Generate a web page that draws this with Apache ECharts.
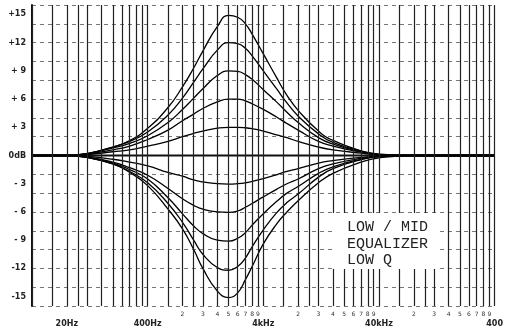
<!DOCTYPE html>
<html lang="en">
<head>
<meta charset="UTF-8">
<script src="https://cdn.jsdelivr.net/npm/echarts@6/dist/echarts.min.js"></script>
<title>Low / Mid Equalizer Low Q</title>
<style>
    html, body { margin: 0; padding: 0; background: #fff; }
    #main { width: 506px; height: 336px; }
</style>
</head>
<body>
<div id="main"></div>
<script>
    var freqs = [10, 20, 30, 50, 70, 100, 150, 200, 250, 300, 400, 500, 600, 700, 800, 1000, 1300, 1600, 2000, 3000, 4000, 7000, 10000, 20000, 100000];

    // boost curves (dB)
    var boost15 = [0, 0, 0.2, 0.9, 1.6, 2.9, 5.1, 7.3, 9.3, 11.1, 13.7, 14.9, 14.7, 14.0, 12.9, 10.8, 8.3, 6.4, 4.8, 2.6, 1.6, 0.5, 0.15, 0, 0];
    var boost12 = [0, 0, 0.2, 0.9, 1.5, 2.5, 4.3, 6.1, 7.8, 9.2, 11.2, 12, 11.9, 11.4, 10.6, 9.0, 7.1, 5.6, 4.2, 2.3, 1.4, 0.45, 0.12, 0, 0];
    var boost9 = [0, 0, 0.2, 0.8, 1.3, 2.1, 3.5, 4.9, 6.1, 7.1, 8.5, 9, 8.95, 8.6, 8.1, 7.0, 5.7, 4.6, 3.5, 1.9, 1.2, 0.4, 0.1, 0, 0];
    var boost6 = [0, 0, 0.15, 0.6, 1.0, 1.7, 2.7, 3.7, 4.4, 5.0, 5.7, 6, 6.0, 5.8, 5.5, 4.9, 4.1, 3.4, 2.7, 1.5, 1.0, 0.35, 0.1, 0, 0];
    var boost3 = [0, 0, 0.1, 0.4, 0.6, 1.0, 1.5, 2.0, 2.35, 2.6, 2.9, 3, 3.0, 2.95, 2.85, 2.6, 2.2, 1.9, 1.5, 0.9, 0.6, 0.25, 0.08, 0, 0];

    // cut curves (dB)
    var cut3 = [0, 0, -0.1, -0.4, -0.7, -1.1, -1.8, -2.2, -2.6, -2.8, -3.0, -3.05, -3.0, -2.9, -2.75, -2.45, -2.05, -1.7, -1.4, -0.8, -0.55, -0.2, -0.07, 0, 0];
    var cut6 = [0, 0, -0.15, -0.7, -1.3, -2.1, -3.5, -4.6, -5.3, -5.7, -6.0, -6.05, -5.9, -5.5, -5.1, -4.4, -3.6, -3.0, -2.5, -1.4, -0.9, -0.3, -0.1, 0, 0];
    var cut9 = [0, 0, -0.2, -0.8, -1.5, -2.5, -4.5, -6.2, -7.5, -8.3, -9.0, -9.1, -8.8, -8.2, -7.4, -6.2, -4.9, -4.0, -3.3, -1.9, -1.2, -0.4, -0.12, 0, 0];
    var cut12 = [0, 0, -0.2, -0.9, -1.7, -2.9, -5.1, -7.1, -9.0, -10.5, -11.9, -12.2, -11.8, -10.9, -9.7, -7.9, -6.1, -5.0, -4.1, -2.3, -1.4, -0.45, -0.13, 0, 0];
    var cut15 = [0, 0, -0.2, -0.9, -1.8, -3.2, -5.7, -7.8, -10.0, -12.0, -14.4, -15.1, -14.6, -13.2, -11.8, -9.4, -7.3, -6.0, -4.8, -2.9, -1.9, -0.7, -0.25, 0, 0];

    var curves = [boost15, boost12, boost9, boost6, boost3, cut3, cut6, cut9, cut12, cut15];

    // axis labels
    var yTickValues = [15, 12, 9, 6, 3, 0, -3, -6, -9, -12, -15];
    var yTickLabels = ['+15', '+12', '+ 9', '+ 6', '+ 3', '0dB', '- 3', '- 6', '- 9', '-12', '-15'];
    var xLabelValues = [20, 100, 1000, 10000, 100000];
    var xLabelTexts = ['20Hz', '400Hz', '4kHz', '40kHz', '400'];

    // log grid
    var decades = [10, 100, 1000, 10000];
    var gridSteps = [1, 1.5, 2, 2.5, 3, 4, 5, 6, 7, 8, 9];
    var digitSteps = [2, 3, 4, 5, 6, 7, 8, 9];
    var digitDecades = [100, 1000, 10000];

    var gridFreqs = [];
    decades.forEach(function (d) {
        gridSteps.forEach(function (s) { gridFreqs.push(d * s); });
    });
    gridFreqs.push(100000);

    var tickFreqs = [];
    decades.forEach(function (d) {
        digitSteps.forEach(function (s) { tickFreqs.push(d * s); });
    });
    var digitFreqs = [];
    digitDecades.forEach(function (d) {
        digitSteps.forEach(function (s) { digitFreqs.push(d * s); });
    });

    var chart = echarts.init(document.getElementById('main'));

    var series = [{
        type: 'line',
        data: [[10, 0], [100000, 0]],
        symbol: 'none',
        lineStyle: { color: '#111', width: 2 },
        z: 3,
        markLine: {
            silent: true,
            symbol: 'none',
            label: { show: false },
            lineStyle: { color: '#222', width: 1.2, type: 'solid' },
            data: gridFreqs.map(function (f) { return { xAxis: f }; })
        }
    }];
    curves.forEach(function (g) {
        series.push({
            type: 'line',
            data: freqs.map(function (f, i) { return [f, g[i]]; }),
            symbol: 'none',
            smooth: 0.5,
            lineStyle: { color: '#000', width: 1.3 },
            z: 4
        });
    });

    var option = {
        animation: false,
        grid: { left: 32, right: 4, top: 5, bottom: 30 },
        xAxis: [{
            type: 'log',
            logBase: 10,
            min: 10,
            max: 100000,
            position: 'bottom',
            axisLine: { show: false },
            splitLine: { show: false },
            axisTick: { show: true, customValues: tickFreqs, length: 2, lineStyle: { color: '#333', width: 1 } },
            axisLabel: {
                customValues: xLabelValues,
                margin: 14,
                fontSize: 8,
                fontWeight: 'bold',
                fontFamily: 'DejaVu Sans',
                color: '#222',
                formatter: function (v) {
                    var i = xLabelValues.indexOf(v);
                    return i >= 0 ? xLabelTexts[i] : '';
                }
            }
        }, {
            type: 'log',
            logBase: 10,
            min: 10,
            max: 100000,
            position: 'bottom',
            axisLine: { show: false },
            splitLine: { show: false },
            axisTick: { show: false },
            axisLabel: {
                customValues: digitFreqs,
                margin: 5,
                fontSize: 6,
                fontFamily: 'DejaVu Sans',
                color: '#333',
                formatter: function (v) {
                    return String(v).charAt(0);
                }
            }
        }],
        yAxis: [{
            type: 'value',
            min: -16,
            max: 16,
            position: 'left',
            axisLine: { show: true, lineStyle: { color: '#111', width: 2 } },
            axisTick: { show: false },
            splitLine: { show: false },
            axisLabel: {
                customValues: yTickValues,
                margin: 6,
                fontSize: 8,
                fontWeight: 'bold',
                fontFamily: 'DejaVu Sans',
                color: '#222',
                formatter: function (v) {
                    var i = yTickValues.indexOf(v);
                    return i >= 0 ? yTickLabels[i] : '';
                }
            }
        }, {
            type: 'value',
            min: -16,
            max: 16,
            interval: 2,
            position: 'right',
            axisLine: { show: false },
            axisTick: { show: false },
            axisLabel: { show: false },
            splitLine: { show: true, lineStyle: { color: '#777', width: 1, type: [4, 4] } }
        }],
        graphic: [{
            type: 'rect',
            left: 332,
            top: 213,
            shape: { width: 108, height: 56 },
            style: { fill: '#fff' },
            z: 100
        }, {
            type: 'text',
            left: 347,
            top: 219,
            style: {
                text: 'LOW / MID\nEQUALIZER\nLOW Q',
                font: '15px "Liberation Mono"',
                lineHeight: 16.5,
                fill: '#222'
            },
            z: 101
        }],
        series: series
    };

    chart.setOption(option);
</script>
</body>
</html>
